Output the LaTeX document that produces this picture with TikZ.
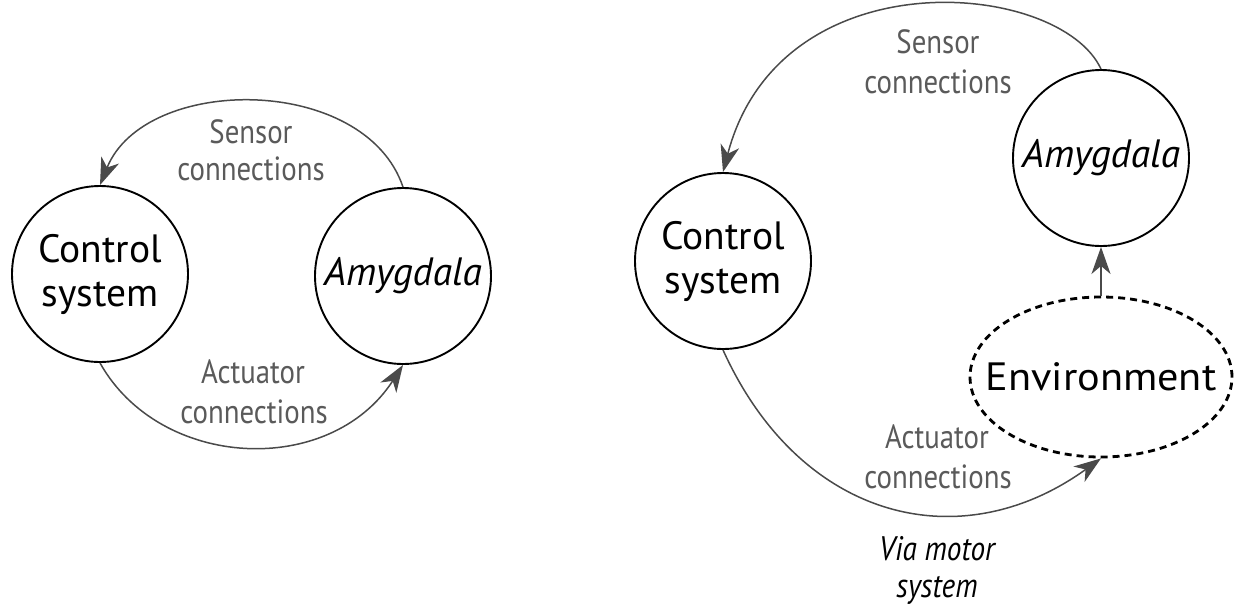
\documentclass[tikz,border=0pt]{standalone}
\usepackage{fontspec}
\usepackage{graphicx}
\setmainfont{PT Sans}
\usetikzlibrary{arrows.meta,shapes.geometric}
\definecolor{lblgray}{HTML}{5A5A5A}
\definecolor{arrgray}{HTML}{4A4A4A}
\newcommand\cnd[1]{\scalebox{0.86}[1]{#1}}
\tikzset{
  unit/.style={circle,draw=black,line width=1.9pt,minimum size=176pt,inner sep=0pt,align=center,
    font=\fontsize{39.5}{44}\selectfont},
  envbox/.style={ellipse,draw=black,line width=2.8pt,dash pattern=on 7pt off 5pt,minimum width=262pt,minimum height=160pt,inner sep=0pt,
    font=\fontsize{39.5}{44}\selectfont},
  lbl/.style={anchor=base,text=lblgray,inner sep=0pt,font=\fontsize{33.5}{38}\selectfont},
  via/.style={anchor=base,text=black,inner sep=0pt,font=\fontsize{34}{38}\selectfont\itshape},
  conn/.style={draw=arrgray,line width=1.5pt,-{Stealth[length=27pt,width=19pt,inset=8pt]}},
}
\begin{document}
\begin{tikzpicture}[x=1pt,y=-1pt]
\useasboundingbox[fill=white] (0,0) rectangle (1242,614);
% left diagram
\node[unit] (ctrlL) at (100,274) {Control\\system};
\node[unit] (amyL) at (403,276) {\itshape Amygdala};
\draw[conn] (amyL.north) .. controls (365,74) and (145,74) .. (ctrlL.north);
\draw[conn] (ctrlL.south) .. controls (160,470) and (330,478) .. (amyL.south);
\node[lbl] (sL1) at (251,143) {\cnd{Sensor}};
\node[lbl] (sL2) at (251,180) {\cnd{connections}};
\node[lbl] (aL1) at (253,383) {\cnd{Actuator}};
\node[lbl] (aL2) at (254,423) {\cnd{connections}};
% right diagram
\node[unit] (ctrlR) at (723,261) {Control\\system};
\node[unit] (amyR) at (1101,158) {\itshape Amygdala};
\node[envbox] (env) at (1101,377) {\makebox[0pt]{\scalebox{1.07}[1]{Environment}}};
\draw[conn] (amyR.north) .. controls (1060,-20) and (780,-45) .. (ctrlR.north);
\draw[conn] (ctrlR.south) .. controls (800,520) and (960,560) .. (env.south);
\draw[conn] (env.north) -- (amyR.south);
\node[lbl] (sR1) at (938,53) {\cnd{Sensor}};
\node[lbl] (sR2) at (938,93) {\cnd{connections}};
\node[lbl] (aR1) at (937,448) {\cnd{Actuator}};
\node[lbl] (aR2) at (938,488) {\cnd{connections}};
\node[via] (v1) at (937,560) {\cnd{Via motor}};
\node[via] (v2) at (937,597) {\cnd{system}};
\end{tikzpicture}
\end{document}
